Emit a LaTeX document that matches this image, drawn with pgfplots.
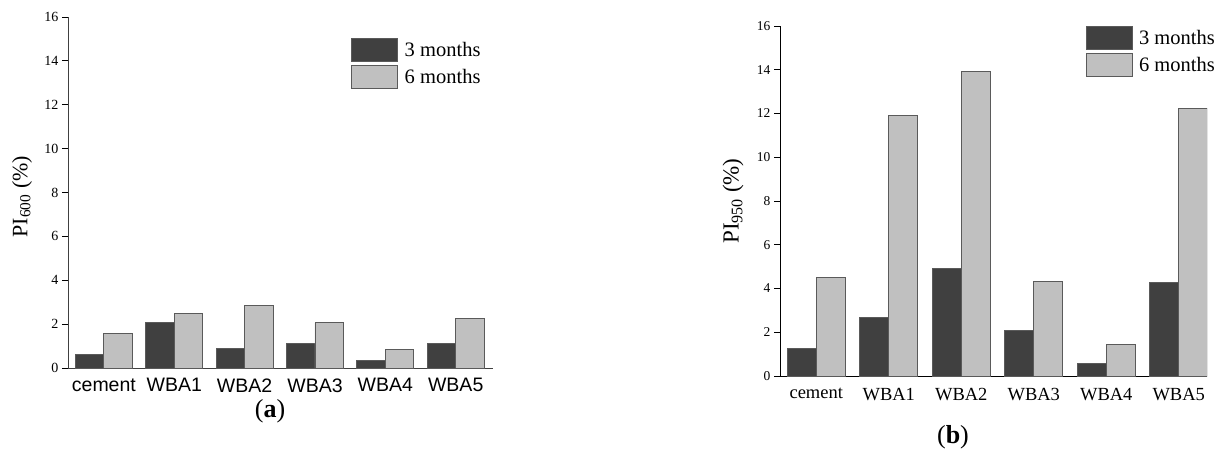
\documentclass[border=0pt]{standalone}
\usepackage{fontspec}
\setmainfont{Liberation Serif}
\setsansfont{Liberation Sans}
\usepackage{pgfplots}
\pgfplotsset{compat=1.18}

\definecolor{darkbar}{HTML}{404040}
\definecolor{lightbar}{HTML}{C0C0C0}
\definecolor{edge}{HTML}{5A5A5A}

\pgfplotsset{
  panel/.style={
    scale only axis,
    ymin=0, ymax=16,
    ytick={0,2,...,16},
    axis x line=bottom, axis y line=left,
    axis line style={-, line width=1bp},
    tick align=outside,
    major tick length=6bp,
    xtick={0,...,5},
    xticklabels={cement,WBA1,WBA2,WBA3,WBA4,WBA5},
    x tick style={draw=none},
    y tick style={line width=1bp, black},
    /pgf/number format/assume math mode=true,
    yticklabel style={font=\fontsize{14bp}{16bp}\selectfont},
    legend image code/.code={\draw[##1,line width=1bp] (0bp,-11.5bp) rectangle (46bp,11.5bp); \path[draw=none,fill=none] (0bp,0bp) -- (51bp,0bp);},
    legend cell align=left,
    legend style={draw=none, fill=none, inner sep=0pt, row sep=2.5bp,
      font=\fontsize{20.5bp}{23bp}\selectfont, anchor=north west},
  },
  darkb/.style={ybar, bar width=0.405, bar shift=-0.2025, fill=darkbar, draw=edge, line width=0.9bp},
  lightb/.style={ybar, bar width=0.405, bar shift=0.2025, fill=lightbar, draw=edge, line width=0.9bp},
}

\begin{document}
\begin{tikzpicture}
\useasboundingbox (0,0) rectangle (1218bp,-455bp);
% Panel (a)
\begin{axis}[panel,
  at={(68bp,-368bp)}, anchor=south west,
  width=425bp, height=351bp,
  xmin=-0.51, xmax=5.53,
  axis line style={color=black!75},
  xticklabel style={font=\sffamily\fontsize{19.5bp}{22bp}\selectfont, yshift=-1bp},
  ylabel={PI\textsubscript{600} (\%)},
  ylabel style={font=\fontsize{22bp}{24bp}\selectfont, at={(rel axis cs:0,0.5)}, yshift=46bp, xshift=-4bp, anchor=center},
  legend style={at={(0.666,0.94)}},
]
\addplot[darkb] coordinates {(0,0.61)(1,2.08)(2,0.88)(3,1.11)(4,0.35)(5,1.12)};
\addplot[lightb] coordinates {(0,1.56)(1,2.47)(2,2.83)(3,2.06)(4,0.85)(5,2.26)};
\legend{3 months, 6 months}
\end{axis}
% Panel (b)
\begin{axis}[panel,
  at={(780bp,-376bp)}, anchor=south west,
  width=427bp, height=350bp,
  xmin=-0.5, xmax=5.39,
  xticklabel style={font=\fontsize{18.5bp}{21bp}\selectfont, yshift=-3bp},
  yticklabel style={font=\fontsize{13.5bp}{16bp}\selectfont},
  ylabel={PI\textsubscript{950} (\%)},
  ylabel style={font=\fontsize{23bp}{25bp}\selectfont, at={(rel axis cs:0,0.5)}, yshift=47bp, anchor=center},
  legend style={at={(0.715,1.0)}},
]
\addplot[darkb, bar width=0.4, bar shift=-0.2] coordinates {(0,1.26)(1,2.68)(2,4.92)(3,2.09)(4,0.58)(5,4.28)};
\addplot[lightb, bar width=0.4, bar shift=0.2] coordinates {(0,4.49)(1,11.92)(2,13.94)(3,4.31)(4,1.43)(5,12.25)};
\legend{3 months, 6 months}
\end{axis}
\node[font=\fontsize{26bp}{28bp}\selectfont] at (270bp,-411bp) {(\textbf{a})};
\node[font=\fontsize{26bp}{28bp}\selectfont] at (953bp,-437bp) {(\textbf{b})};
\end{tikzpicture}
\end{document}
